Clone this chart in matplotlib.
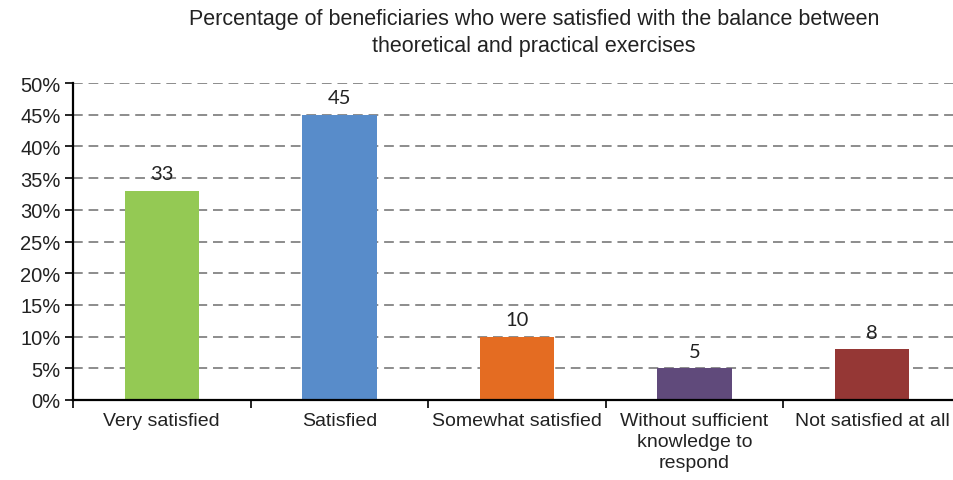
import matplotlib
matplotlib.use("Agg")
import matplotlib.pyplot as plt
import numpy as np
from matplotlib.ticker import FixedLocator, NullFormatter

categories = ["Very satisfied", "Satisfied", "Somewhat satisfied",
              "Without sufficient\nknowledge to\nrespond", "Not satisfied at all"]
values = [33, 45, 10, 5, 8]
colors = ["#94C954", "#588CCA", "#E46C22", "#604A7B", "#953735"]
yticks = [0, 5, 10, 15, 20, 25, 30, 35, 40, 45, 50]
ytick_labels = [f"{v}%" for v in yticks]
title = ("Percentage of beneficiaries who were satisfied with the balance between\n"
         "theoretical and practical exercises")

W, H = 954, 481
fig = plt.figure(figsize=(W / 100, H / 100), dpi=100)
ax = fig.add_axes([73 / W, 80 / H, (961 - 73) / W, (401 - 84) / H])

x = np.arange(len(categories))
ax.bar(x, values, width=0.42, color=colors, zorder=3)

ax.set_xlim(-0.5, len(categories) - 0.5)
ax.set_ylim(0, 50)
ax.set_yticks(yticks)
ax.set_yticklabels(ytick_labels, fontsize=14.5, family="Liberation Sans", color="#222222")

# category labels centred under bars, tick marks between categories
ax.set_xticks(x)
ax.set_xticklabels(categories, fontsize=14, family="Liberation Sans",
                   color="#222222", linespacing=1.3)
ax.tick_params(axis="x", which="major", length=0, pad=9)
ax.xaxis.set_minor_locator(FixedLocator(np.arange(-0.5, len(categories), 1.0)))
ax.xaxis.set_minor_formatter(NullFormatter())
ax.tick_params(axis="x", which="minor", length=6, width=1.2, direction="out", color="black")
ax.tick_params(axis="y", length=6, width=1.2, direction="out", pad=3)

for v in yticks[1:]:
    ax.axhline(v, color="#8C8C8C", lw=1.4, ls=(0, (5, 3)), zorder=1)

for s in ["top", "right"]:
    ax.spines[s].set_visible(False)
for s in ["left", "bottom"]:
    ax.spines[s].set_linewidth(1.6)
    ax.spines[s].set_color("black")
    ax.spines[s].set_zorder(4)

for xi, v in zip(x, values):
    ax.annotate(f"{v}", (xi, v), xytext=(0, 6), textcoords="offset points",
                ha="center", va="bottom", fontsize=14.5, family="Lato", color="#222222")

fig.text(534 / W, 1 - 9 / H, title, ha="center", va="top", fontsize=15.5,
         family="Liberation Sans", color="#222222", linespacing=1.35)

fig.savefig("out.png", dpi=100)
